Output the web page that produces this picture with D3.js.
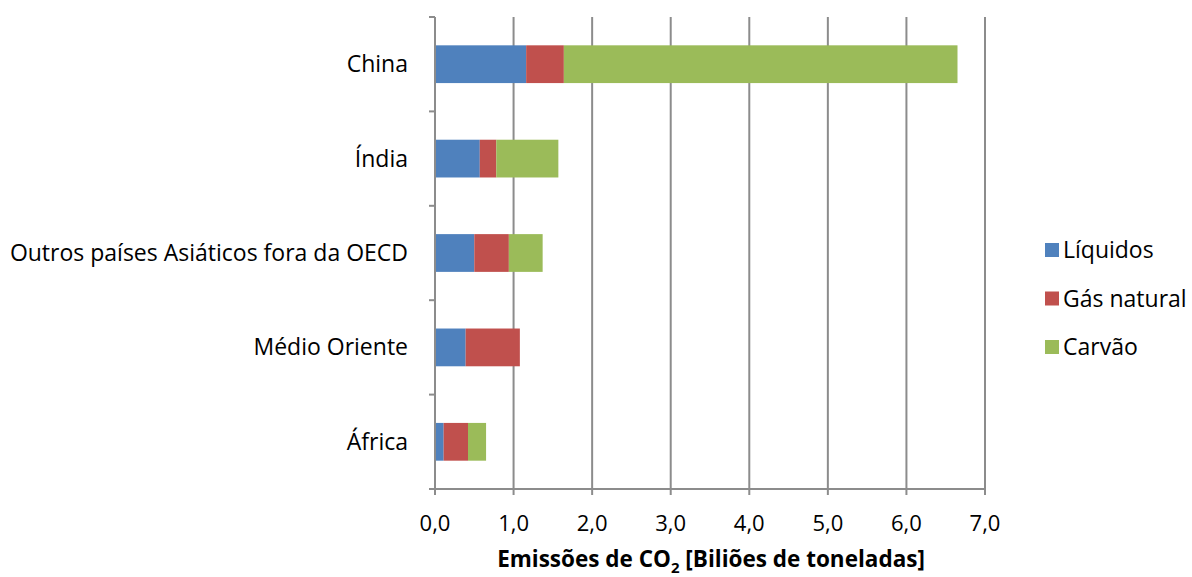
<!DOCTYPE html>
<html><head><meta charset="utf-8">
<script src="https://cdn.jsdelivr.net/npm/d3@7"></script>
<style>body{margin:0;background:#fff}svg{display:block}text{font-family:"Open Sans",sans-serif;fill:#000}</style>
</head><body><svg id="c" width="1192" height="577"></svg>
<script>
const categories = ["China","Índia","Outros países Asiáticos fora da OECD","Médio Oriente","África"];
const seriesNames = ["Líquidos","Gás natural","Carvão"];
const liquidos = [1.16,0.57,0.50,0.39,0.11];
const gasNatural = [0.48,0.21,0.44,0.69,0.31];
const carvao = [5.01,0.79,0.43,0.00,0.23];
const xTicks = [0,1,2,3,4,5,6,7];
const colors = ["#4F81BD","#C0504D","#9BBB59"];

const svg = d3.select("#c");
const L = 435, R = 985, T = 17, B = 489;
const x = d3.scaleLinear().domain([0,7]).range([L,R]);
const y = d3.scaleBand().domain(categories).range([T,B]).paddingInner(0.6).paddingOuter(0.3);
const yb = d3.scaleBand().domain(categories).range([T,B]);

const rows = categories.map((c,i)=>({cat:c, "Líquidos":liquidos[i], "Gás natural":gasNatural[i], "Carvão":carvao[i]}));
const stack = d3.stack().keys(seriesNames)(rows);

svg.append("g").selectAll("line").data(xTicks.slice(1)).join("line")
  .attr("x1",d=>x(d)).attr("x2",d=>x(d)).attr("y1",T).attr("y2",B)
  .attr("stroke","#8c8c8c").attr("stroke-width",2);

svg.append("g").selectAll("g").data(stack).join("g").attr("fill",(d,i)=>colors[i])
  .selectAll("rect").data(d=>d).join("rect")
  .attr("x",d=>x(d[0])).attr("width",d=>x(d[1])-x(d[0]))
  .attr("y",d=>y(d.data.cat)).attr("height",y.bandwidth());

const ya = svg.append("g").attr("stroke","#8c8c8c").attr("stroke-width",2);
ya.append("line").attr("x1",L).attr("x2",L).attr("y1",T).attr("y2",B+6);
const bounds = categories.map(c=>yb(c)).concat([B]);
ya.selectAll(".t").data(bounds).join("line").attr("x1",L-6).attr("x2",L).attr("y1",d=>d).attr("y2",d=>d);
ya.append("line").attr("x1",L-6).attr("x2",R).attr("y1",B).attr("y2",B);
ya.selectAll(".xt").data(xTicks).join("line").attr("x1",d=>x(d)).attr("x2",d=>x(d)).attr("y1",B).attr("y2",B+6);

const fs = "23px";
const fmt = d=>d3.format(".1f")(d).replace(".",",");
svg.append("g").selectAll("text").data(xTicks).join("text")
  .attr("x",d=>x(d)).attr("y",531).attr("text-anchor","middle").style("font-size","22px").text(fmt);
svg.append("g").selectAll("text").data(categories).join("text")
  .attr("x",408).attr("y",d=>yb(d)+yb.bandwidth()/2).attr("dy","0.35em").attr("text-anchor","end")
  .style("font-size",fs).text(d=>d);

const title = svg.append("text").attr("x",711).attr("y",567).attr("text-anchor","middle")
  .style("font-size","22.5px").style("font-weight","bold");
title.append("tspan").text("Emissões de CO");
title.append("tspan").attr("dy",6).style("font-size","15px").text("2");
title.append("tspan").attr("dy",-6).text(" [Biliões de toneladas]");

const lg = svg.append("g").selectAll("g").data(seriesNames).join("g")
  .attr("transform",(d,i)=>`translate(1045,${250+i*48.5})`);
lg.append("rect").attr("x",0).attr("y",-7).attr("width",14).attr("height",14).attr("fill",(d,i)=>colors[i]);
lg.append("text").attr("x",18).attr("dy","0.35em").style("font-size",fs).text(d=>d);
</script></body></html>
